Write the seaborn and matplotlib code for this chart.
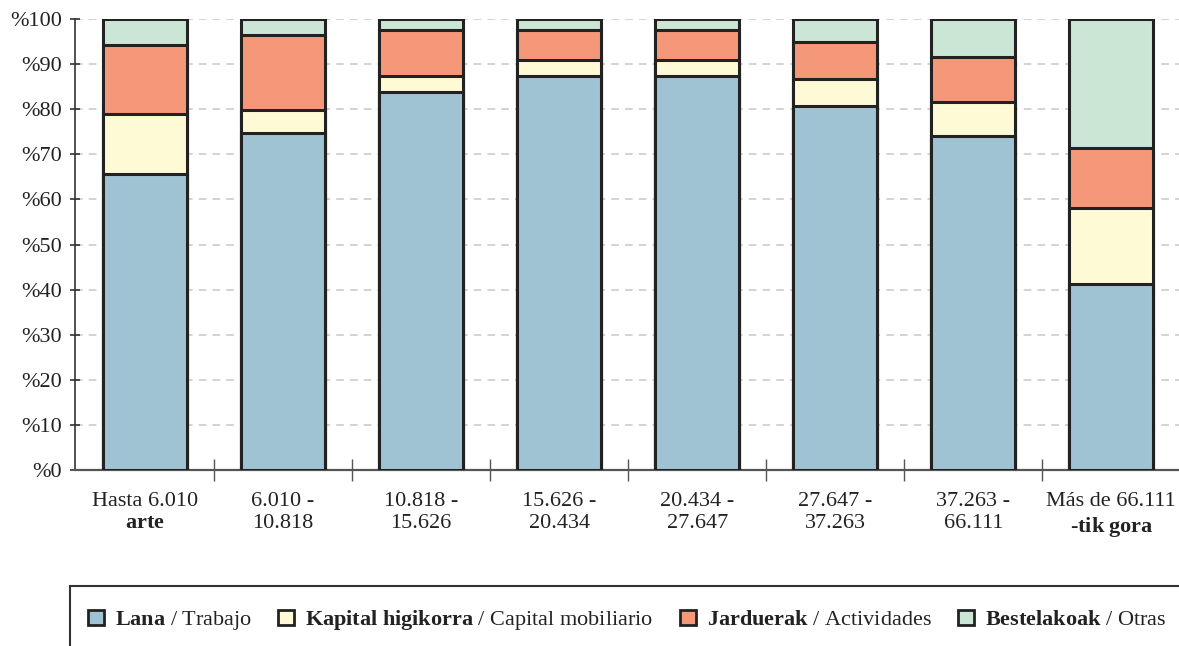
import matplotlib
matplotlib.use("Agg")
import matplotlib.pyplot as plt
import seaborn as sns
import numpy as np
import pandas as pd
from matplotlib.patches import Patch, Rectangle

# ---- data ----
cat_line1 = ["Hasta 6.010", "6.010 -", "10.818 -", "15.626 -", "20.434 -",
             "27.647 -", "37.263 -", "Más de 66.111"]
cat_line2 = ["arte", "10.818", "15.626", "20.434", "27.647",
             "37.263", "66.111", "\u2010tik gora"]
cat_line2_bold = [True, False, False, False, False, False, False, True]

lana = [65.6, 74.7, 83.8, 87.4, 87.4, 80.7, 74.1, 41.2]
kapital = [13.3, 5.1, 3.6, 3.5, 3.5, 6.0, 7.5, 16.9]
jarduerak = [15.3, 16.7, 10.2, 6.7, 6.7, 8.2, 10.0, 13.3]
bestelakoak = [5.8, 3.5, 2.4, 2.4, 2.4, 5.1, 8.4, 28.6]

series_names = ["Lana", "Kapital higikorra", "Jarduerak", "Bestelakoak"]
legend_labels = [r"$\bf{Lana}$ / Trabajo",
                 r"$\bf{Kapital\ higikorra}$ / Capital mobiliario",
                 r"$\bf{Jarduerak}$ / Actividades",
                 r"$\bf{Bestelakoak}$ / Otras"]
colors = ["#9FC3D3", "#FFFAD6", "#F5987A", "#CCE6D5"]
ytick_vals = list(range(0, 101, 10))
ytick_labels = ["%" + str(v) for v in ytick_vals]

# ---- style ----
sns.set_theme(style="white")
plt.rcParams["font.family"] = ["Liberation Serif", "DejaVu Serif"]
plt.rcParams["mathtext.fontset"] = "custom"
plt.rcParams["mathtext.rm"] = "Liberation Serif"
plt.rcParams["mathtext.bf"] = "Liberation Serif:bold"
plt.rcParams["mathtext.it"] = "Liberation Serif:italic"

fig = plt.figure(figsize=(11.79, 6.46), dpi=100)
ax = fig.add_axes([75 / 1179, 1 - 470 / 646, 1 - 75 / 1179, (470 - 19) / 646])

df = pd.DataFrame({"cat": cat_line1, "Lana": lana, "Kapital higikorra": kapital,
                   "Jarduerak": jarduerak, "Bestelakoak": bestelakoak})
cum = df[series_names].cumsum(axis=1)

# draw from the top layer downwards so lower segments overlap
for name, col in reversed(list(zip(series_names, colors))):
    sns.barplot(x=df["cat"], y=cum[name], order=cat_line1, color=col,
                edgecolor="#222222", linewidth=2.2, width=0.61,
                saturation=1, ax=ax, zorder=3)

ax.set_ylim(0, 100)
ax.set_xlim(-0.507, 7.49)
ax.set_yticks(ytick_vals)
ax.set_yticklabels(ytick_labels, fontsize=16, color="#222222")
ax.set_ylabel("")
ax.set_xlabel("")

ax.yaxis.grid(True, linestyle=(0, (5, 4)), color="#c8c8c8", linewidth=1.1, zorder=0)
ax.set_axisbelow(True)

for s in ["top", "right"]:
    ax.spines[s].set_visible(False)
ax.spines["left"].set_color("#333333")
ax.spines["left"].set_linewidth(1.2)
ax.spines["bottom"].set_color("#555555")
ax.spines["bottom"].set_linewidth(1.6)

ax.tick_params(axis="y", direction="inout", length=7, width=1.2, color="#333333",
               pad=6, left=True)

xlabels = []
for l1, l2, b in zip(cat_line1, cat_line2, cat_line2_bold):
    if b:
        l2m = "$\\bf{" + l2.replace(" ", "\\ ") + "}$"
    else:
        l2m = l2
    xlabels.append(l1 + "\n" + l2m)
ax.set_xticks(range(len(cat_line1)))
ax.set_xticklabels(xlabels, fontsize=16, color="#222222", linespacing=1.2)
ax.tick_params(axis="x", which="major", length=0, pad=16)
ax.set_xticks(np.arange(0.5, len(cat_line1) - 0.5, 1.0), minor=True)
ax.tick_params(axis="x", which="minor", direction="inout", length=16, width=1.0,
               color="#555555", bottom=True)

# legend
handles = [Patch(facecolor=c, edgecolor="#222222", linewidth=2.0) for c in colors]
fig.legend(handles, legend_labels, loc="center", bbox_to_anchor=(0.532, 0.040),
           ncol=4, frameon=False, fontsize=16, handlelength=0.7, handleheight=0.7,
           handletextpad=0.5, columnspacing=1.2, labelcolor="#222222")

fig.patches.append(Rectangle((70 / 1179, -0.05), 1.2, (646 - 586) / 646 + 0.05,
                             transform=fig.transFigure, fill=False,
                             edgecolor="#333333", linewidth=1.5))

fig.savefig("out.png", dpi=100)
